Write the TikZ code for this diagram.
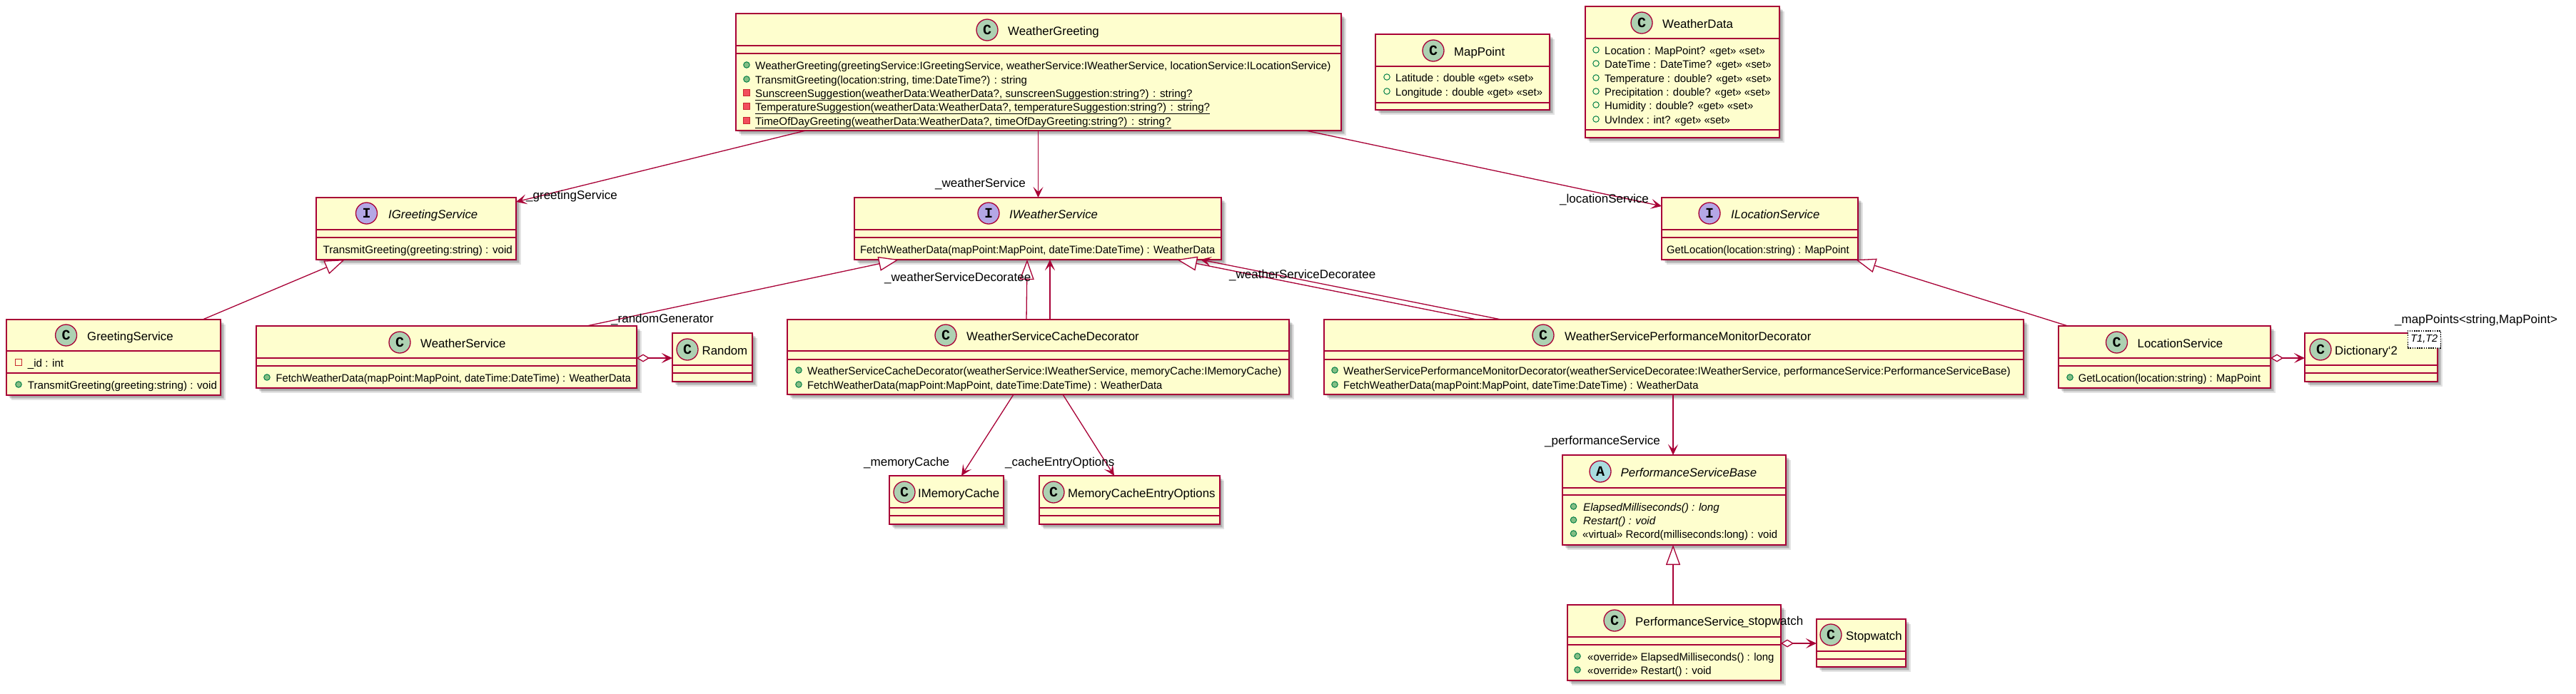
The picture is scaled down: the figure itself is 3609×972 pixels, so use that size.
\documentclass[tikz,border=0pt]{standalone}
\usepackage{fontspec}
\usepackage{graphicx}
\setmainfont{Liberation Sans}
\newfontfamily\iconfont{Liberation Mono}[BoldFont=* Bold]
\usetikzlibrary{arrows.meta,calc}
\definecolor{umlred}{HTML}{A80036}
\definecolor{umlfill}{HTML}{FEFECE}
\definecolor{iconC}{HTML}{ADD1B2}
\definecolor{iconI}{HTML}{B4A7E5}
\definecolor{iconA}{HTML}{A9DCDF}
\definecolor{pubstroke}{HTML}{038048}
\definecolor{pubfill}{HTML}{84BE84}
\definecolor{privstroke}{HTML}{C82930}
\definecolor{privfill}{HTML}{F24D5C}
\tikzset{
  classbox/.style={rectangle,draw=umlred,fill=umlfill,line width=2pt,anchor=north west,inner sep=0pt,outer sep=0pt},
  sep/.style={draw=umlred,line width=2pt},
  shadowlayer/.style={fill=black,opacity=.11},
  icon/.style={circle,draw=umlred,line width=1.3pt,minimum size=30pt,inner sep=0pt,font=\iconfont\bfseries\fontsize{20}{20}\selectfont},
  ttltext/.style={anchor=base west,inner sep=0pt,font=\fontsize{16.8}{18}\selectfont},
  memtext/.style={anchor=base west,inner sep=0pt,font=\fontsize{15.2}{17}\selectfont},
  lbl/.style={anchor=base west,inner sep=0pt,font=\fontsize{17}{19}\selectfont},
  pubm/.style={circle,draw=pubstroke,fill=pubfill,line width=1pt,minimum size=8.5pt,inner sep=0pt},
  pubf/.style={circle,draw=pubstroke,line width=1pt,minimum size=8.5pt,inner sep=0pt},
  privm/.style={rectangle,draw=privstroke,fill=privfill,line width=1pt,minimum size=8.5pt,inner sep=0pt},
  privf/.style={rectangle,draw=privstroke,line width=1pt,minimum size=8.5pt,inner sep=0pt},
  assoc/.style={draw=umlred,line width=1.3pt,-{Stealth[length=15pt,width=14pt,inset=7pt]}},
  gen/.style={draw=umlred,line width=1.3pt,-{Triangle[open,length=28pt,width=20pt,fill=white]}},
  agg/.style={draw=umlred,line width=2pt,{Diamond[open,length=18pt,width=11pt,fill=white,line width=1.3pt]}-{Stealth[length=15pt,width=14pt,inset=7pt]}},
  tparam/.style={draw=black,dash pattern=on 1.6pt off 1.6pt,fill=white,line width=1.5pt,inner sep=0pt,rectangle,anchor=north west,font=\fontsize{14.5}{16}\selectfont\itshape,minimum width=46pt,minimum height=24pt},
}
% horizontal fit of a text to the reference's width
\newcommand\hfitfetch[1]{\scalebox{.967}[1]{#1}}
\newcommand\hfitrow[1]{\scalebox{.98}[1]{#1}}
% name, left, top, right, header bottom, attribute bottom, bottom
\newcommand\cls[7]{%
  \foreach \k in {2,3.5,5,6.5} \fill[shadowlayer] (#2+\k,#3+\k) rectangle (#4+\k,#7+\k);
  \pgfmathsetmacro\cw{#4-#2}\pgfmathsetmacro\chh{#7-#3}%
  \pgfmathsetmacro\ca{#5-#3}\pgfmathsetmacro\cb{#6-#3}%
  \node[classbox,minimum width=\cw pt,minimum height=\chh pt] (#1) at (#2,#3) {};
  \draw[sep] ([yshift=-\ca pt]#1.north west) -- ([yshift=-\ca pt]#1.north east);
  \draw[sep] ([yshift=-\cb pt]#1.north west) -- ([yshift=-\cb pt]#1.north east);
}
% name, icon colour, letter, icon x, text x, centre y, text
\newcommand\ttl[7]{%
  \node[icon,fill=#2] (#1-i) at (#4,#6-1) {#3};
  \node[ttltext] (#1-t) at (#5,#6+6) {#7};
}
% name, icon style, icon x, text x, centre y, text
\newcommand\mem[6]{%
  \node[#2] (#1-i) at (#3,#5-1) {};
  \node[memtext] (#1) at (#4,#5+5) {#6};
}
\newcommand\plain[4]{\node[memtext] (#1) at (#2,#3+5) {#4};}
\begin{document}
\begin{tikzpicture}[x=1pt,y=-1pt]
\useasboundingbox (0,0) rectangle (3609,972);
\fill[white] (0,0) rectangle (3609,972);

% --- classes
\cls{wg}{1031}{19}{1879}{64}{75}{183}
\cls{mp}{1927}{48}{2171}{93}{144}{154}
\cls{wd}{2220.5}{9}{2493}{54}{182}{193}
\cls{ig}{443}{277}{723}{322}{333}{364}
\cls{iw}{1197}{277}{1711}{322}{333}{364}
\cls{il}{2328}{277}{2603}{322}{333}{364}
\cls{gs}{9}{448}{309}{492}{523}{554}
\cls{ws}{359}{457}{892}{502}{513}{544}
\cls{rn}{942}{467}{1054}{512}{523}{535}
\cls{cd}{1103}{448}{1806}{492}{504}{553}
\cls{pm}{1855}{448}{2835}{492}{504}{553}
\cls{ls}{2884}{457}{3181}{502}{513}{544}
\cls{dc}{3229}{467}{3415}{512}{523}{535}
\cls{im}{1246}{667}{1405.5}{712}{723}{735}
\cls{mo}{1455.5}{667}{1708.5}{712}{723}{735}
\cls{pb}{2189}{638}{2502}{684}{694}{764}
\cls{ps}{2195.5}{848}{2495}{893}{904}{954}
\cls{sw}{2545}{868}{2670}{913}{924}{935}

% --- titles
\ttl{wg}{iconC}{C}{1383}{1412}{43}{WeatherGreeting}
\ttl{mp}{iconC}{C}{2008}{2037}{72}{MapPoint}
\ttl{wd}{iconC}{C}{2300}{2329}{33}{WeatherData}
\ttl{ig}{iconI}{I}{513.5}{544}{300}{\itshape IGreetingService}
\ttl{iw}{iconI}{I}{1385}{1414}{300}{\itshape IWeatherService}
\ttl{il}{iconI}{I}{2395}{2425}{300}{\itshape ILocationService}
\ttl{gs}{iconC}{C}{92.6}{122}{471}{GreetingService}
\ttl{ws}{iconC}{C}{560}{589}{481}{WeatherService}
\ttl{rn}{iconC}{C}{963}{983.5}{491}{Random}
\ttl{cd}{iconC}{C}{1325}{1354}{471}{WeatherServiceCacheDecorator}
\ttl{pm}{iconC}{C}{2162}{2192}{471}{WeatherServicePerformanceMonitorDecorator}
\ttl{ls}{iconC}{C}{2965.5}{2994.5}{481}{LocationService}
\ttl{dc}{iconC}{C}{3251}{3271}{491}{Dictionary{\char96}2}
\ttl{im}{iconC}{C}{1267}{1286}{691}{IMemoryCache}
\ttl{mo}{iconC}{C}{1476}{1496}{691}{MemoryCacheEntryOptions}
\ttl{pb}{iconA}{A}{2242}{2270.5}{662}{\itshape PerformanceServiceBase}
\ttl{ps}{iconC}{C}{2262}{2291}{871}{PerformanceService}
\ttl{sw}{iconC}{C}{2565}{2586}{891}{Stopwatch}
\node[tparam] (dc-tp) at (3372.5,463) {T1,T2};

% --- members
\mem{wg-1}{pubm}{1046}{1058}{92}{WeatherGreeting(greetingService:IGreetingService, weatherService:IWeatherService, locationService:ILocationService)}
\mem{wg-2}{pubm}{1046}{1058}{112}{\hfitrow{TransmitGreeting(location:string, time:DateTime?) : string}}
\mem{wg-3}{privm}{1046}{1058}{131}{\underline{SunscreenSuggestion(weatherData:WeatherData?, sunscreenSuggestion:string?) : string?}}
\mem{wg-4}{privm}{1046}{1058}{150}{\underline{TemperatureSuggestion(weatherData:WeatherData?, temperatureSuggestion:string?) : string?}}
\mem{wg-5}{privm}{1046}{1058}{170}{\underline{TimeOfDayGreeting(weatherData:WeatherData?, timeOfDayGreeting:string?) : string?}}
\mem{mp-1}{pubf}{1943}{1955}{109}{\hfitrow{Latitude : double «get» «set»}}
\mem{mp-2}{pubf}{1943}{1955}{129}{\hfitrow{Longitude : double «get» «set»}}
\mem{wd-1}{pubf}{2236}{2248}{71}{\hfitrow{Location : MapPoint? «get» «set»}}
\mem{wd-2}{pubf}{2236}{2248}{90}{\hfitrow{DateTime : DateTime? «get» «set»}}
\mem{wd-3}{pubf}{2236}{2248}{110}{\hfitrow{Temperature : double? «get» «set»}}
\mem{wd-4}{pubf}{2236}{2248}{129}{\hfitrow{Precipitation : double? «get» «set»}}
\mem{wd-5}{pubf}{2236}{2248}{148}{\hfitrow{Humidity : double? «get» «set»}}
\mem{wd-6}{pubf}{2236}{2248}{168}{\hfitrow{UvIndex : int? «get» «set»}}
\plain{ig-1}{452.5}{350}{TransmitGreeting(greeting:string) : void}
\plain{iw-1}{1205}{350}{\hfitfetch{FetchWeatherData(mapPoint:MapPoint, dateTime:DateTime) : WeatherData}}
\plain{il-1}{2335}{350}{\hfitfetch{GetLocation(location:string) : MapPoint}}
\mem{gs-1}{privf}{26}{38.6}{509}{\_id : int}
\mem{gs-2}{pubm}{26}{38.6}{540}{TransmitGreeting(greeting:string) : void}
\mem{ws-1}{pubm}{374}{386.5}{530}{\hfitfetch{FetchWeatherData(mapPoint:MapPoint, dateTime:DateTime) : WeatherData}}
\mem{cd-1}{pubm}{1119}{1131}{520}{WeatherServiceCacheDecorator(weatherService:IWeatherService, memoryCache:IMemoryCache)}
\mem{cd-2}{pubm}{1119}{1131}{540}{\hfitfetch{FetchWeatherData(mapPoint:MapPoint, dateTime:DateTime) : WeatherData}}
\mem{pm-1}{pubm}{1870}{1882}{520}{WeatherServicePerformanceMonitorDecorator(weatherServiceDecoratee:IWeatherService, performanceService:PerformanceServiceBase)}
\mem{pm-2}{pubm}{1870}{1882}{540}{\hfitfetch{FetchWeatherData(mapPoint:MapPoint, dateTime:DateTime) : WeatherData}}
\mem{ls-1}{pubm}{2900}{2911.6}{530}{\hfitfetch{GetLocation(location:string) : MapPoint}}
\mem{pb-1}{pubm}{2204.5}{2218}{711}{\itshape ElapsedMilliseconds() : long}
\mem{pb-2}{pubm}{2204.5}{2218}{730}{\itshape Restart() : void}
\mem{pb-3}{pubm}{2204.5}{2217}{749}{\hfitrow{«virtual» Record(milliseconds:long) : void}}
\mem{ps-1}{pubm}{2210}{2224}{921}{\hfitrow{«override» ElapsedMilliseconds() : long}}
\mem{ps-2}{pubm}{2210}{2224}{940}{\hfitrow{«override» Restart() : void}}

% --- connectors
\draw[assoc] ([xshift=98pt]wg.south west) -- ([yshift=-6pt]ig.north east);
\draw[assoc] ([xshift=423.5pt]wg.south west) -- ([xshift=257.5pt]iw.north west);
\draw[assoc] ([xshift=798pt]wg.south west) -- ([yshift=-12pt]il.north west);
\draw[gen] ([xshift=275pt]gs.north west) -- ([xshift=40pt]ig.south west);
\draw[gen] ([xshift=463pt]ws.north west) -- ([xshift=62pt]iw.south west);
\draw[gen] ([xshift=335pt]cd.north west) -- ([xshift=242pt]iw.south west);
\draw[assoc] ([xshift=368pt]cd.north west) -- ([xshift=274pt]iw.south west);
\draw[gen] ([xshift=214pt]pm.north west) -- ([xshift=452pt]iw.south west);
\draw[assoc] ([xshift=248pt]pm.north west) -- ([xshift=485pt]iw.south west);
\draw[gen] ([xshift=13pt]ls.north west) -- ([xshift=-3pt]il.south east);
\draw[assoc] ([xshift=317pt]cd.south west) -- ([xshift=101pt]im.north west);
\draw[assoc] ([xshift=386pt]cd.south west) -- ([xshift=105.5pt]mo.north west);
\draw[assoc] ([xshift=489pt]pm.south west) -- ([xshift=155pt]pb.north west);
\draw[gen] ([xshift=148.5pt]ps.north west) -- ([xshift=155pt]pb.south west);
\draw[agg] ([yshift=-45pt]ws.north east) -- ([yshift=-35pt]rn.north west);
\draw[agg] ([yshift=-45pt]ls.north east) -- ([yshift=-35pt]dc.north west);
\draw[agg] ([yshift=-54pt]ps.north east) -- ([yshift=-34pt]sw.north west);

% --- connector labels
\node[lbl] (l-gs) at (737,279) {\_greetingService};
\node[lbl] (l-ws) at (1310,262) {\_weatherService};
\node[lbl] (l-ls) at (2185,284) {\_locationService};
\node[lbl] (l-rg) at (856,452) {\_randomGenerator};
\node[lbl] (l-d1) at (1239,394) {\_weatherServiceDecoratee};
\node[lbl] (l-d2) at (1722,390) {\_weatherServiceDecoratee};
\node[lbl] (l-mc) at (1210,653) {\_memoryCache};
\node[lbl] (l-ce) at (1408,653) {\_cacheEntryOptions};
\node[lbl] (l-pf) at (2164,623) {\_performanceService};
\node[lbl] (l-sw) at (2440,876) {\_stopwatch};
\node[lbl] (l-mp) at (3355,453) {\_mapPoints<string,MapPoint>};
\end{tikzpicture}
\end{document}
